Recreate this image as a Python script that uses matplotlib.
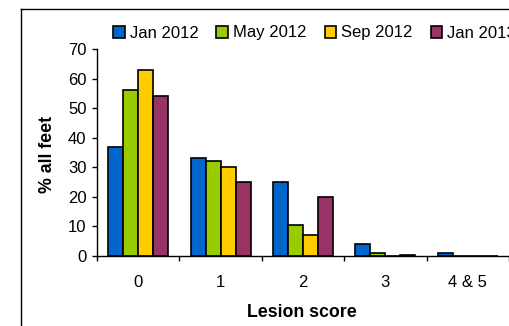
import matplotlib
matplotlib.use("Agg")
import matplotlib.pyplot as plt
from matplotlib.lines import Line2D
import numpy as np

plt.rcParams['font.family'] = ['Liberation Sans', 'DejaVu Sans']

categories = ["0", "1", "2", "3", "4 & 5"]
series_names = ["Jan 2012", "May 2012", "Sep 2012", "Jan 2013"]
jan_2012 = [37, 33, 25, 4, 1]
may_2012 = [56, 32, 10.5, 1, 0]
sep_2012 = [63, 30, 7, 0, 0]
jan_2013 = [54, 25, 20, 0.5, 0]
colors = ["#0066CC", "#99CC00", "#FFCC00", "#993366"]

W, H = 510, 326
fig = plt.figure(figsize=(W / 100, H / 100), dpi=100)
ax = fig.add_axes([97 / W, 1 - 256 / H, 412 / W, 207 / H])

x = np.arange(len(categories))
bw = 0.182
for i, (vals, col) in enumerate(zip([jan_2012, may_2012, sep_2012, jan_2013], colors)):
    ax.bar(x + (i - 1.5) * bw, vals, bw, color=col, edgecolor="black",
           linewidth=1.2, label=series_names[i])

ax.set_xlim(-0.5, 4.5)
ax.set_ylim(0, 70)
ax.set_yticks(range(0, 71, 10))
ax.set_xticks(np.arange(-0.5, 4.6, 1))
ax.set_xticklabels([])
ax.set_xticks(x, minor=True)
ax.set_xticklabels(categories, minor=True)
ax.tick_params(axis="x", which="major", length=3.6, width=1, direction="out")
ax.tick_params(axis="x", which="minor", length=0, pad=14, labelsize=12)
ax.tick_params(axis="y", length=3.6, width=1, pad=4, labelsize=12)

for s in ["top", "right"]:
    ax.spines[s].set_visible(False)
for s in ["left", "bottom"]:
    ax.spines[s].set_linewidth(1)

ax.set_ylabel("% all feet", fontsize=12.8, fontweight="bold", va="center")
ax.yaxis.set_label_coords(-0.121, 0.49)
ax.set_xlabel("Lesion score", fontsize=12.8, fontweight="bold", va="center")
ax.xaxis.set_label_coords(0.498, -0.275)

ax.legend(loc="center left", bbox_to_anchor=(113 / W, 1 - 33 / H),
          bbox_transform=fig.transFigure, ncol=4, frameon=False,
          fontsize=12, handlelength=0.7, handleheight=0.7,
          handletextpad=0.3, columnspacing=1.08, borderpad=0, borderaxespad=0)

# outer chart frame (cut off at right and bottom)
fig.add_artist(Line2D([21 / W, 1], [1 - 9 / H, 1 - 9 / H], transform=fig.transFigure,
                      color="black", lw=1))
fig.add_artist(Line2D([21 / W, 21 / W], [0, 1 - 9 / H], transform=fig.transFigure,
                      color="black", lw=1))

fig.savefig("out.png", dpi=100)
